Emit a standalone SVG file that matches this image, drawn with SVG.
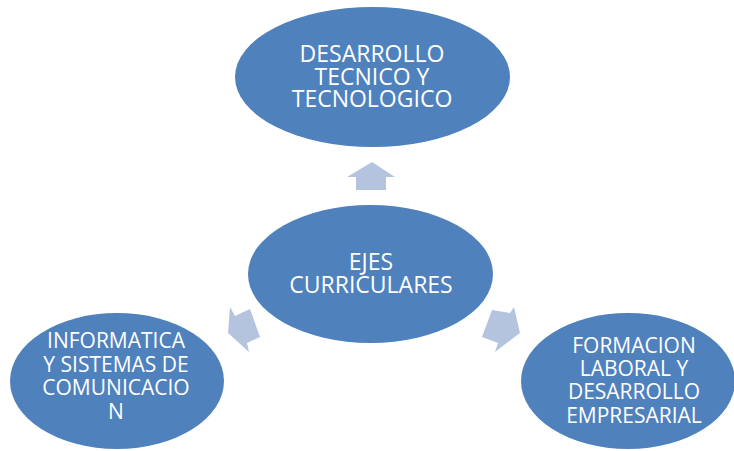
<svg xmlns="http://www.w3.org/2000/svg" width="734" height="451" viewBox="0 0 734 451">
<style>
.node{fill:#4F81BD}
.arrow{fill:#B4C4DF}
.t{fill:#FFFFFF;font-family:"Open Sans","DejaVu Sans",sans-serif;text-anchor:middle}
</style>
<rect width="734" height="451" fill="#FFFFFF"/>
<g id="connectors">
<polygon class="arrow" points="372,162 395,177 386,177 386,190 356,190 356,177 347,177"/>
<polygon class="arrow" points="230,307 235,316 250,309 260,337 247,343 249,352 228,333"/>
<polygon class="arrow" points="514,307 510,313 492,310 482,337 498,343 495,352 520,333"/>
</g>
<g id="top">
<ellipse class="node" cx="372.5" cy="77" rx="137.5" ry="70"/>
<text class="t" font-size="23"><tspan x="372" y="62">DESARROLLO</tspan><tspan x="372" y="85">TECNICO Y</tspan><tspan x="372" y="107">TECNOLOGICO</tspan></text>
</g>
<g id="center">
<ellipse class="node" cx="370.5" cy="274" rx="122.5" ry="69"/>
<text class="t" font-size="23"><tspan x="371" y="270">EJES</tspan><tspan x="371" y="293">CURRICULARES</tspan></text>
</g>
<g id="left">
<ellipse class="node" cx="117" cy="381" rx="107" ry="68"/>
<text class="t" font-size="21"><tspan x="116" y="348">INFORMATICA</tspan><tspan x="116" y="372">Y SISTEMAS DE</tspan><tspan x="116" y="395">COMUNICACIO</tspan><tspan x="116" y="419">N</tspan></text>
</g>
<g id="right">
<ellipse class="node" cx="628" cy="381" rx="107" ry="68"/>
<text class="t" font-size="21"><tspan x="634" y="353">FORMACION</tspan><tspan x="634" y="376">LABORAL Y</tspan><tspan x="634" y="399">DESARROLLO</tspan><tspan x="634" y="423">EMPRESARIAL</tspan></text>
</g>
</svg>
